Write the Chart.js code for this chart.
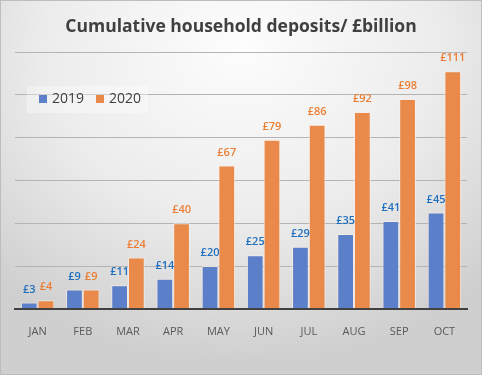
<!DOCTYPE html>
<html>
<head>
<meta charset="utf-8">
<script src="https://cdn.jsdelivr.net/npm/chart.js@4"></script>
<style>
  html, body { margin: 0; padding: 0; }
  #wrap {
    position: relative;
    width: 480px; height: 373px;
    border: 1px solid #bdbdbd;
    background: radial-gradient(ellipse 75% 85% at 50% 12%, #fdfdfd 0%, #ececec 55%, #cfcfcf 100%);
  }
</style>
</head>
<body>
<div id="wrap"><canvas id="chart" width="480" height="373"></canvas></div>
<script>
const months = ["JAN", "FEB", "MAR", "APR", "MAY", "JUN", "JUL", "AUG", "SEP", "OCT"];
const deposits2019 = [3, 9, 11, 14, 20, 25, 29, 35, 41, 45];
const deposits2020 = [4, 9, 24, 40, 67, 79, 86, 92, 98, 111];
const seriesNames = ["2019", "2020"];

const BLUE = "#5b7fc8";
const ORANGE = "#ea8a4a";
const FONT = "'Open Sans', 'Liberation Sans', sans-serif";

// value labels like "£45" above each bar
const barLabels = {
    id: "barLabels",
    afterDatasetsDraw(chart) {
        const ctx = chart.ctx;
        const colors = ["#1f6fbf", "#ec7d32"];
        ctx.save();
        ctx.font = "600 11px " + FONT;
        ctx.textAlign = "center";
        ctx.textBaseline = "middle";
        chart.data.datasets.forEach((ds, i) => {
            ctx.fillStyle = colors[i];
            chart.getDatasetMeta(i).data.forEach((bar, j) => {
                ctx.fillText("£" + ds.data[j], bar.x, bar.y - 13);
            });
        });
        ctx.restore();
    }
};

// floating legend inside the plot, top left
const floatLegend = {
    id: "floatLegend",
    afterDraw(chart) {
        const ctx = chart.ctx;
        const x0 = 26, y0 = 85;
        ctx.save();
        ctx.fillStyle = "rgba(255,255,255,0.35)";
        ctx.fillRect(x0, y0, 121, 27);
        ctx.font = "14px " + FONT;
        ctx.textBaseline = "middle";
        let x = x0 + 12;
        chart.data.datasets.forEach((ds, i) => {
            ctx.fillStyle = ds.backgroundColor;
            ctx.fillRect(x, y0 + 9, 8, 8);
            ctx.fillStyle = "#404040";
            ctx.fillText(seriesNames[i], x + 13, y0 + 13.5);
            x += 57;
        });
        ctx.restore();
    }
};

new Chart(document.getElementById("chart"), {
    type: "bar",
    data: {
        labels: months,
        datasets: [
            { label: seriesNames[0], data: deposits2019, backgroundColor: BLUE,
              borderColor: "rgba(255,240,230,0.7)", borderWidth: 1 },
            { label: seriesNames[1], data: deposits2020, backgroundColor: ORANGE,
              borderColor: "rgba(255,240,230,0.7)", borderWidth: 1 }
        ]
    },
    options: {
        responsive: false,
        animation: false,
        layout: { padding: { left: 14, right: 14, top: 8, bottom: 28 } },
        datasets: { bar: { categoryPercentage: 0.74, barPercentage: 1.0 } },
        plugins: {
            legend: { display: false },
            tooltip: { enabled: false },
            title: {
                display: true,
                text: "Cumulative household deposits/ £billion",
                color: "#404040",
                font: { family: FONT, size: 17.5, weight: "bold" },
                padding: { top: 8, bottom: 14 }
            }
        },
        scales: {
            x: {
                grid: { display: false },
                border: { color: "#404040", width: 2 },
                ticks: { color: "#595959", font: { family: FONT, size: 11 }, padding: 8 }
            },
            y: {
                min: 0, max: 120,
                ticks: { display: false, stepSize: 20 },
                border: { display: false },
                grid: { color: "#b4b4b4", drawTicks: false }
            }
        }
    },
    plugins: [barLabels, floatLegend]
});
</script>
</body>
</html>
